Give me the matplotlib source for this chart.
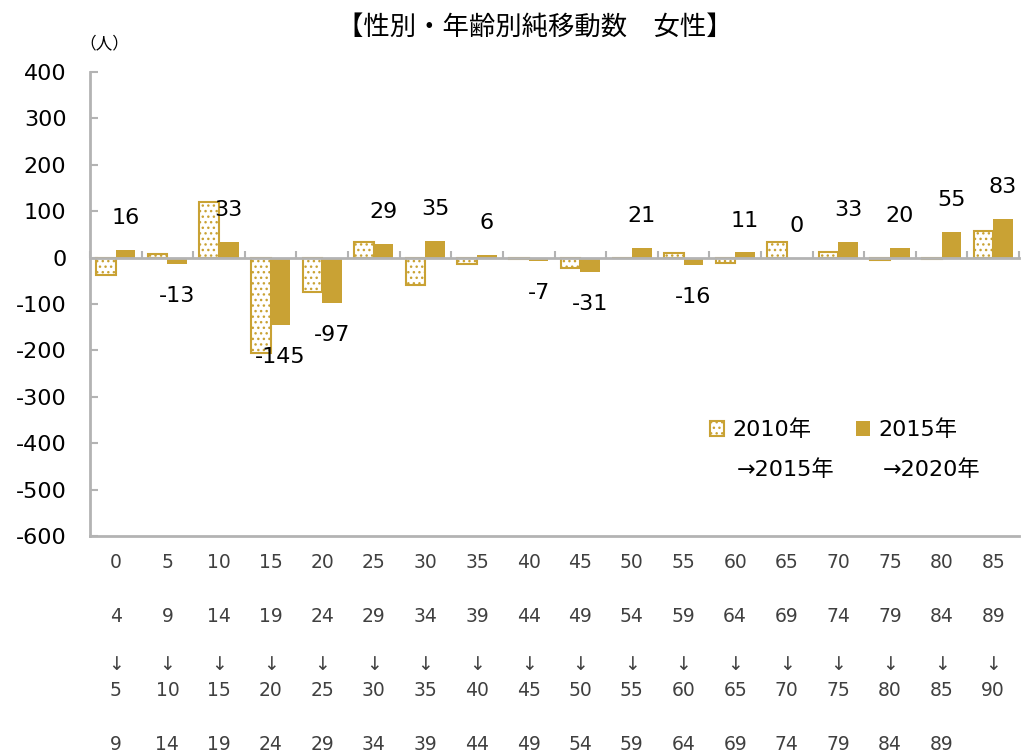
import numpy as np
import matplotlib
matplotlib.use('Agg')
import matplotlib.pyplot as plt
import matplotlib.transforms as mtransforms

plt.rcParams['font.family'] = ['DejaVu Sans', 'Noto Sans CJK JP']
plt.rcParams['axes.unicode_minus'] = False
plt.rcParams['hatch.linewidth'] = 1.0

# data
age_from = ['0', '5', '10', '15', '20', '25', '30', '35', '40', '45',
            '50', '55', '60', '65', '70', '75', '80', '85']
age_to = ['4', '9', '14', '19', '24', '29', '34', '39', '44', '49',
          '54', '59', '64', '69', '74', '79', '84', '89']
age_from2 = ['5', '10', '15', '20', '25', '30', '35', '40', '45', '50',
             '55', '60', '65', '70', '75', '80', '85', '90']
age_to2 = ['9', '14', '19', '24', '29', '34', '39', '44', '49', '54',
           '59', '64', '69', '74', '79', '84', '89', '']
values_2010 = [-38, 7, 120, -206, -74, 33, -60, -13, -4, -22,
               0, 10, -11, 34, 13, -5, -4, 58]
values_2015 = [16, -13, 33, -145, -97, 29, 35, 6, -7, -31,
               21, -16, 11, 0, 33, 20, 55, 83]
series_names = ['2010年', '2015年']
series_names2 = ['→2015年', '→2020年']

gold = '#C9A234'
gray = '#B3B3B3'

fig = plt.figure(figsize=(10.29, 7.54), dpi=100)
ax = fig.add_axes([90 / 1029, 1 - 536 / 754, 929 / 1029, 464 / 754])

x = np.arange(len(age_from))
w = 0.38
b1 = ax.bar(x - w / 2, values_2010, w, facecolor='white', edgecolor=gold,
            linewidth=1.5, hatch='...', zorder=2)
b2 = ax.bar(x + w / 2, values_2015, w, color=gold, zorder=2)

# value labels for the 2015 series
for xi, v in zip(x, values_2015):
    off = 23 if v >= 0 else -23
    ax.annotate(str(v), (xi + w / 2, v), xytext=(0, off),
                textcoords='offset points', ha='center', va='center',
                fontsize=16, color='black', zorder=5)

ax.set_xlim(-0.5, len(age_from) - 0.5)
ax.set_ylim(-600, 400)
ax.set_yticks(np.arange(-600, 401, 100))
ax.tick_params(axis='y', direction='in', length=6, width=1.5, color=gray,
               labelsize=16, pad=17, labelcolor='black')

ax.spines['top'].set_visible(False)
ax.spines['right'].set_visible(False)
ax.spines['left'].set_color(gray)
ax.spines['left'].set_linewidth(2)
ax.spines['bottom'].set_position(('data', 0))
ax.spines['bottom'].set_color(gray)
ax.spines['bottom'].set_linewidth(2)
ax.set_xticks(np.arange(-0.5, len(age_from), 1))
ax.set_xticklabels([])
ax.tick_params(axis='x', direction='in', length=5, width=1.5, color=gray)
ax.axhline(-600, color=gray, linewidth=2, clip_on=False, zorder=1)

# category labels (five rows)
trans = mtransforms.blended_transform_factory(ax.transData, fig.transFigure)
rows = [(age_from, 562), (age_to, 617), (['↓'] * len(age_from), 664),
        (age_from2, 690), (age_to2, 745)]
for labels, py in rows:
    for xi, lab in zip(x, labels):
        ax.text(xi, 1 - py / 754, lab, transform=trans, ha='center',
                va='center', fontsize=13.5, color='#404040')

# legend
leg = ax.legend([b1, b2], series_names, ncol=2, frameon=False,
                loc='center left', bbox_to_anchor=(710 / 1029, 1 - 430 / 754),
                bbox_transform=fig.transFigure, fontsize=16,
                handlelength=0.65, handleheight=0.65, handletextpad=0.35,
                columnspacing=2.0, borderpad=0, borderaxespad=0)
fig.text(737 / 1029, 1 - 470 / 754, series_names2[0], fontsize=16,
         ha='left', va='center')
fig.text(883 / 1029, 1 - 470 / 754, series_names2[1], fontsize=16,
         ha='left', va='center')

fig.text(535 / 1029, 1 - 27 / 754, '【性別・年齢別純移動数\u3000女性】',
         fontsize=19, ha='center', va='center', family='Noto Sans CJK JP')
fig.text(104 / 1029, 1 - 44 / 754, '（人）', fontsize=12, ha='center',
         va='center', family='Noto Sans CJK JP')

fig.savefig('out.png', dpi=100)
